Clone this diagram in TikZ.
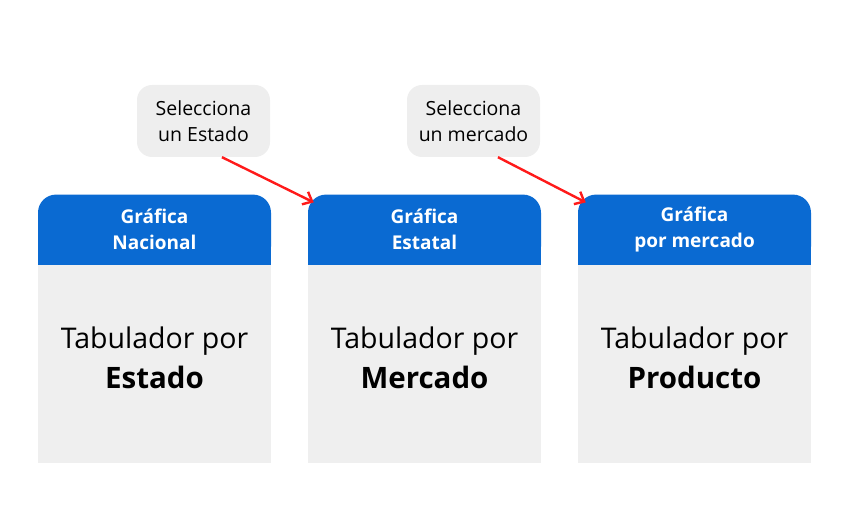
\documentclass[tikz,border=0pt]{standalone}
\usepackage{fontspec}
\setmainfont{Open Sans}
\usepackage{xcolor}
\usetikzlibrary{arrows.meta,positioning,backgrounds}

\definecolor{headblue}{HTML}{0A6AD2}
\definecolor{cardgray}{HTML}{EFEFEF}
\definecolor{notegray}{HTML}{EEEEEE}
\definecolor{arrred}{HTML}{FF1A1A}

\newcommand{\bigword}[1]{{\fontsize{29.5}{40}\selectfont\bfseries #1}}

\begin{document}
\begin{tikzpicture}[
  x=1pt, y=1pt,
  body/.style={fill=cardgray, minimum width=233pt, minimum height=198pt, inner sep=0pt},
  head/.style={fill=headblue, rounded corners=18pt, minimum width=233pt, minimum height=70pt,
    inner sep=0pt, align=center, text=white, font=\fontsize{19}{26}\selectfont\bfseries},
  tab/.style={align=center, font=\fontsize{28.5}{40}\selectfont},
  note/.style={fill=notegray, rounded corners=15pt, minimum width=133pt, minimum height=72pt,
    align=center, font=\fontsize{19.5}{26}\selectfont},
  arr/.style={-{Straight Barb[length=8pt,width=14pt]}, line width=2.4pt, arrred}
]
  \useasboundingbox (0,0) rectangle (849,528);

  \node[body] (body1) at (154.5,164) {};
  \node[body] (body2) at (424.5,164) {};
  \node[body] (body3) at (694.5,164) {};

  \node[head, above=0pt of body1] (head1) {Gráfica\\Nacional};
  \node[head, above=0pt of body2] (head2) {Gráfica\\Estatal};
  \node[head, above=0pt of body3] (head3) {Gráfica\\por mercado};
  % square off the bottom of the headers
  \begin{scope}[on background layer]
    \foreach \i in {1,2,3}
      \fill[headblue] (head\i.south west) rectangle ([yshift=20pt]head\i.south east);
  \end{scope}

  \node[tab, yshift=6pt] (tab1) at (body1) {Tabulador por\\\bigword{Estado}};
  \node[tab, yshift=6pt] (tab2) at (body2) {Tabulador por\\\bigword{Mercado}};
  \node[tab, yshift=6pt] (tab3) at (body3) {Tabulador por\\\bigword{Producto}};

  \node[note] (note1) at (203.5,407) {Selecciona\\un Estado};
  \node[note] (note2) at (473.5,407) {Selecciona\\un mercado};

  \draw[arr] ([xshift=18.5pt]note1.south) -- ([xshift=6pt,yshift=-8pt]head2.north west);
  \draw[arr] ([xshift=24.5pt]note2.south) -- ([xshift=8pt,yshift=-8pt]head3.north west);
\end{tikzpicture}
\end{document}
